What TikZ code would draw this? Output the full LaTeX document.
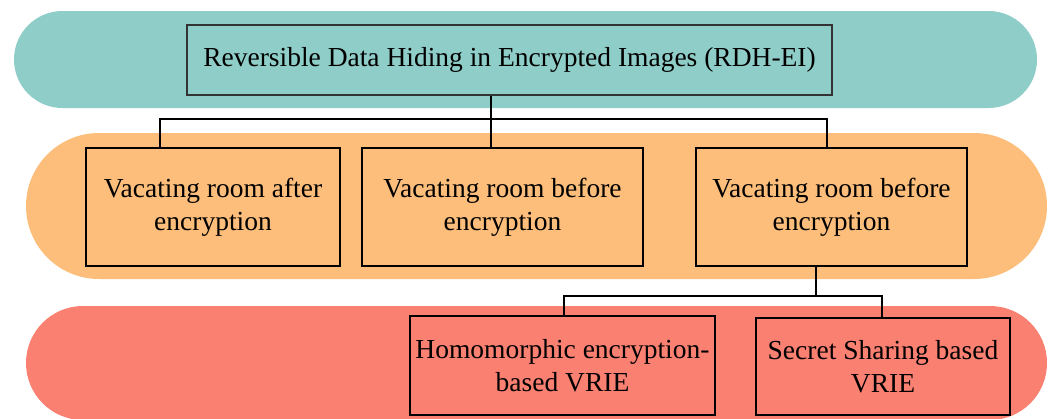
\documentclass[tikz,border=0pt]{standalone}
\usepackage{fontspec}
\setmainfont{Liberation Serif}
\definecolor{bandteal}{RGB}{143,206,200}
\definecolor{bandorange}{RGB}{253,190,123}
\definecolor{bandsalmon}{RGB}{250,128,114}
\tikzset{
  band/.style={draw=none},
  catbox/.style={draw=black, line width=1.1pt, align=center, inner sep=0pt,
    font=\fontsize{27.5}{33}\selectfont},
  wire/.style={draw=black, line width=1.3pt},
}
\begin{document}
\begin{tikzpicture}[x=1pt, y=-1pt]
\useasboundingbox (0,0) rectangle (1051,418);
\clip (0,0) rectangle (1051,418);

% background bands
\path[band, fill=bandteal, rounded corners=48.5pt] (14,11) rectangle (1037,108);
\path[band, fill=bandorange, rounded corners=73pt] (26,133) rectangle (1047,279);
\path[band, fill=bandsalmon, rounded corners=57pt] (26,306) rectangle (1047,420);

% category boxes
\node[catbox, draw=black!80, minimum width=645pt, minimum height=70pt] (root) at (509.5,60)
  {Reversible Data Hiding in Encrypted Images (RDH-EI)};

\node[catbox, minimum width=254pt, minimum height=118pt] (after) at (213,207)
  {Vacating room after\\encryption};
\node[catbox, minimum width=281pt, minimum height=118pt] (before) at (502.5,207)
  {Vacating room before\\encryption};
\node[catbox, minimum width=271pt, minimum height=118pt] (before2) at (831.5,207)
  {Vacating room before\\encryption};

\node[catbox, minimum width=305pt, minimum height=99pt] (homo) at (562.5,365.5)
  {Homomorphic encryption-\\based VRIE};
\node[catbox, minimum width=254pt, minimum height=97pt] (share) at (883,366.5)
  {Secret Sharing based\\VRIE};

% junctions of the tree
\coordinate (j1) at (491,119);
\coordinate (j2) at (816,296);

% connectors
\draw[wire] ([xshift=-18.5pt]root.south) -- (j1);
\draw[wire] (j1) -| ([xshift=-53pt]after.north);
\draw[wire] (j1) -- ([xshift=-11.5pt]before.north);
\draw[wire] (j1) -| ([xshift=-4.5pt]before2.north);

\draw[wire] ([xshift=-15.5pt]before2.south) -- (j2);
\draw[wire] (j2) -| ([xshift=1.5pt]homo.north);
\draw[wire] (j2) -| ([xshift=-1pt]share.north);
\end{tikzpicture}
\end{document}
